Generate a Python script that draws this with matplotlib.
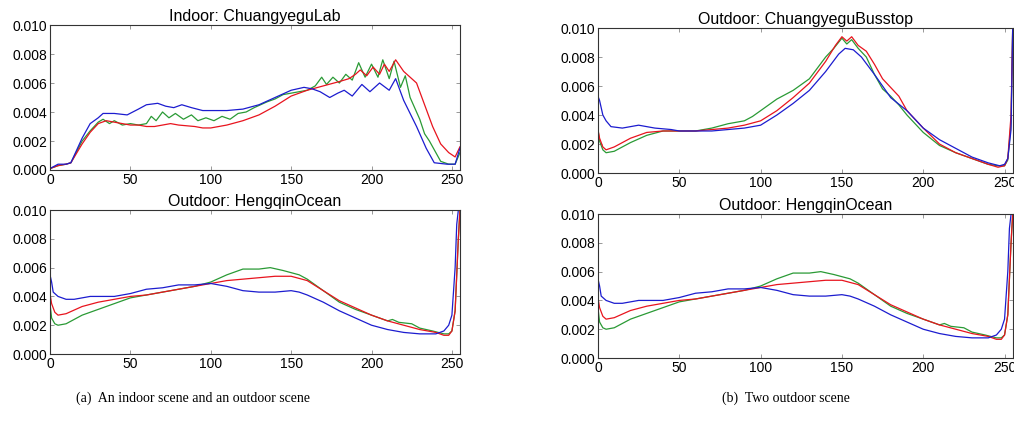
import matplotlib
matplotlib.use("Agg")
import matplotlib.pyplot as plt

# Indoor: ChuangyeguLab
lab_blue_x = [0, 5, 10, 13, 20, 25, 30, 33, 40, 48, 55, 60, 67, 72, 77, 82, 88, 95, 100, 110, 120, 130, 140, 150,
              158, 163, 168, 174, 179, 183, 188, 194, 199, 205, 211, 215, 220, 228, 234, 239, 247, 252, 255]
lab_blue_y = [0.0001, 0.0004, 0.0004, 0.0005, 0.0022, 0.0032, 0.0036, 0.0039, 0.0039, 0.0038, 0.0042, 0.0045,
              0.0046, 0.0044, 0.0043, 0.0045, 0.0043, 0.0041, 0.0041, 0.0041, 0.0042, 0.0045, 0.0050, 0.0055,
              0.0057, 0.0056, 0.0054, 0.0050, 0.0053, 0.0055, 0.0051, 0.0059, 0.0054, 0.0060, 0.0055, 0.0063,
              0.0048, 0.0030, 0.0015, 0.0005, 0.0004, 0.0004, 0.0015]
lab_red_x = [0, 5, 10, 13, 20, 25, 30, 35, 40, 45, 50, 55, 60, 65, 70, 75, 80, 90, 95, 100, 105, 110, 120, 130,
             140, 150, 160, 170, 180, 186, 190, 193, 197, 201, 205, 208, 211, 215, 220, 228, 233, 238, 243, 248,
             252, 255]
lab_red_y = [0.0001, 0.0003, 0.0004, 0.0005, 0.0018, 0.0026, 0.0032, 0.0034, 0.0033, 0.0032, 0.0031, 0.0031,
             0.0030, 0.0030, 0.0031, 0.0032, 0.0031, 0.0030, 0.0029, 0.0029, 0.0030, 0.0031, 0.0034, 0.0038,
             0.0044, 0.0051, 0.0055, 0.0058, 0.0061, 0.0063, 0.0066, 0.0069, 0.0065, 0.0071, 0.0066, 0.0073,
             0.0068, 0.0076, 0.0068, 0.0060, 0.0045, 0.0030, 0.0018, 0.0012, 0.0009, 0.0016]
lab_green_x = [0, 5, 10, 13, 20, 25, 30, 33, 37, 40, 45, 50, 55, 60, 63, 66, 70, 74, 78, 83, 88, 92, 97, 102,
               107, 112, 117, 122, 127, 135, 140, 145, 150, 155, 160, 165, 169, 172, 176, 180, 184, 188, 192,
               196, 200, 204, 207, 211, 214, 218, 221, 224, 228, 230, 233, 236, 240, 243, 248, 252, 255]
lab_green_y = [0.0001, 0.0003, 0.0004, 0.0005, 0.0020, 0.0027, 0.0033, 0.0035, 0.0032, 0.0034, 0.0031, 0.0032,
               0.0031, 0.0032, 0.0037, 0.0034, 0.0040, 0.0036, 0.0039, 0.0035, 0.0038, 0.0034, 0.0036, 0.0034,
               0.0037, 0.0035, 0.0039, 0.0040, 0.0043, 0.0047, 0.0049, 0.0052, 0.0053, 0.0054, 0.0055, 0.0058,
               0.0064, 0.0059, 0.0064, 0.0060, 0.0066, 0.0062, 0.0074, 0.0064, 0.0073, 0.0064, 0.0076, 0.0063,
               0.0075, 0.0057, 0.0065, 0.0050, 0.0040, 0.0035, 0.0025, 0.0020, 0.0012, 0.0006, 0.0004, 0.0004,
               0.0012]

# Outdoor: ChuangyeguBusstop
bus_blue_x = [0, 1, 3, 5, 8, 15, 25, 35, 45, 50, 60, 70, 80, 90, 100, 110, 120, 130, 140, 148, 152, 157, 162,
              170, 180, 190, 200, 210, 220, 230, 240, 247, 250, 252, 254, 255]
bus_blue_y = [0.0053, 0.0050, 0.0040, 0.0036, 0.0032, 0.0031, 0.0033, 0.0031, 0.0030, 0.0029, 0.0029, 0.0029,
              0.0030, 0.0031, 0.0033, 0.0040, 0.0048, 0.0057, 0.0070, 0.0082, 0.0086, 0.0085, 0.0080, 0.0068,
              0.0052, 0.0043, 0.0031, 0.0023, 0.0017, 0.0011, 0.0007, 0.0005, 0.0006, 0.0010, 0.0030, 0.0100]
bus_red_x = [0, 1, 3, 5, 10, 20, 30, 40, 50, 60, 70, 80, 90, 100, 110, 120, 130, 140, 146, 150, 153, 156, 160,
             165, 170, 175, 180, 185, 190, 200, 210, 220, 230, 240, 246, 250, 252, 254, 255]
bus_red_y = [0.0030, 0.0024, 0.0018, 0.0016, 0.0018, 0.0024, 0.0028, 0.0029, 0.0029, 0.0029, 0.0030, 0.0031,
             0.0033, 0.0036, 0.0043, 0.0052, 0.0062, 0.0077, 0.0088, 0.0094, 0.0091, 0.0094, 0.0088, 0.0084,
             0.0075, 0.0065, 0.0059, 0.0053, 0.0043, 0.0031, 0.0020, 0.0014, 0.0010, 0.0006, 0.0004, 0.0005,
             0.0010, 0.0040, 0.0100]
bus_green_x = [0, 1, 3, 5, 10, 20, 30, 40, 50, 60, 70, 80, 90, 95, 100, 110, 120, 130, 140, 145, 150, 153, 156,
               160, 165, 170, 175, 180, 185, 190, 195, 200, 210, 220, 230, 240, 246, 250, 252, 254, 255]
bus_green_y = [0.0030, 0.0022, 0.0016, 0.0014, 0.0015, 0.0021, 0.0026, 0.0029, 0.0029, 0.0029, 0.0031, 0.0034,
               0.0036, 0.0039, 0.0043, 0.0051, 0.0057, 0.0065, 0.0080, 0.0086, 0.0093, 0.0089, 0.0092, 0.0086,
               0.0080, 0.0068, 0.0058, 0.0053, 0.0047, 0.0040, 0.0034, 0.0028, 0.0019, 0.0014, 0.0010, 0.0006,
               0.0005, 0.0005, 0.0009, 0.0035, 0.0100]

# Outdoor: HengqinOcean
ocean_blue_x = [0, 1, 2, 5, 10, 15, 20, 25, 30, 40, 50, 60, 70, 80, 90, 100, 105, 110, 120, 130, 140, 150, 155,
                160, 170, 180, 190, 200, 210, 220, 230, 240, 245, 248, 250, 252, 253, 254]
ocean_blue_y = [0.0055, 0.0050, 0.0043, 0.0040, 0.0038, 0.0038, 0.0039, 0.0040, 0.0040, 0.0040, 0.0042, 0.0045,
                0.0046, 0.0048, 0.0048, 0.0049, 0.0048, 0.0047, 0.0044, 0.0043, 0.0043, 0.0044, 0.0043, 0.0041,
                0.0036, 0.0030, 0.0025, 0.0020, 0.0017, 0.0015, 0.0014, 0.0014, 0.0016, 0.0020, 0.0027, 0.0060,
                0.0090, 0.0100]
ocean_red_x = [0, 1, 3, 5, 10, 20, 30, 40, 50, 60, 70, 80, 90, 100, 110, 120, 130, 140, 150, 160, 170, 180, 190,
               200, 210, 220, 230, 240, 245, 248, 250, 252, 254, 255]
ocean_red_y = [0.0042, 0.0035, 0.0029, 0.0027, 0.0028, 0.0033, 0.0036, 0.0038, 0.0040, 0.0041, 0.0043, 0.0045,
               0.0047, 0.0049, 0.0051, 0.0052, 0.0053, 0.0054, 0.0054, 0.0051, 0.0044, 0.0037, 0.0032, 0.0027,
               0.0023, 0.0020, 0.0017, 0.0015, 0.0013, 0.0013, 0.0016, 0.0030, 0.0080, 0.0100]
ocean_green_x = [0, 1, 3, 5, 10, 20, 30, 40, 50, 60, 70, 80, 90, 100, 110, 120, 130, 137, 145, 155, 160, 170,
                 180, 190, 200, 210, 213, 217, 225, 230, 238, 245, 248, 250, 252, 254, 255]
ocean_green_y = [0.0035, 0.0025, 0.0021, 0.0020, 0.0021, 0.0027, 0.0031, 0.0035, 0.0039, 0.0041, 0.0043,
                 0.0045, 0.0047, 0.0050, 0.0055, 0.0059, 0.0059, 0.0060, 0.0058, 0.0055, 0.0052, 0.0044, 0.0036,
                 0.0031, 0.0027, 0.0023, 0.0024, 0.0022, 0.0021, 0.0018, 0.0016, 0.0014, 0.0014, 0.0016, 0.0030,
                 0.0080, 0.0100]

xticks = [0, 50, 100, 150, 200, 250]
yticks = [0.000, 0.002, 0.004, 0.006, 0.008, 0.010]
ytick_labels = ["0.000", "0.002", "0.004", "0.006", "0.008", "0.010"]

plt.rcParams['font.family'] = ['Liberation Sans', 'DejaVu Sans']

fig = plt.figure(figsize=(10.14, 4.21), dpi=100)

panels = [
    ([0.0493, 0.5962, 0.4043, 0.3444], "Indoor: ChuangyeguLab",
     (lab_blue_x, lab_blue_y), (lab_red_x, lab_red_y), (lab_green_x, lab_green_y)),
    ([0.0493, 0.1591, 0.4043, 0.3420], "Outdoor: HengqinOcean",
     (ocean_blue_x, ocean_blue_y), (ocean_red_x, ocean_red_y), (ocean_green_x, ocean_green_y)),
    ([0.5897, 0.5890, 0.4090, 0.3444], "Outdoor: ChuangyeguBusstop",
     (bus_blue_x, bus_blue_y), (bus_red_x, bus_red_y), (bus_green_x, bus_green_y)),
    ([0.5897, 0.1496, 0.4090, 0.3420], "Outdoor: HengqinOcean",
     (ocean_blue_x, ocean_blue_y), (ocean_red_x, ocean_red_y), (ocean_green_x, ocean_green_y)),
]

for rect, title, blue, red, green in panels:
    ax = fig.add_axes(rect)
    ax.plot(green[0], green[1], color='#2a9a35', lw=0.9)
    ax.plot(red[0], red[1], color='#e8141e', lw=0.9)
    ax.plot(blue[0], blue[1], color='#1c1ccf', lw=0.9)
    ax.set_xlim(0, 255)
    ax.set_ylim(0, 0.010)
    ax.set_xticks(xticks)
    ax.set_yticks(yticks)
    ax.set_yticklabels(ytick_labels)
    ax.tick_params(direction='in', top=True, right=True, labelsize=10, length=3,
                   width=0.6, color='#888888', pad=2)
    for s in ax.spines.values():
        s.set_linewidth(0.8)
        s.set_color('#333333')
    ax.set_title(title, fontsize=11.5, pad=3)

fig.text(0.19, 0.055, "(a)  An indoor scene and an outdoor scene", ha='center', va='center',
         fontsize=10, family='Liberation Serif')
fig.text(0.775, 0.055, "(b)  Two outdoor scene", ha='center', va='center',
         fontsize=10, family='Liberation Serif')

fig.savefig("out.png", dpi=100)
